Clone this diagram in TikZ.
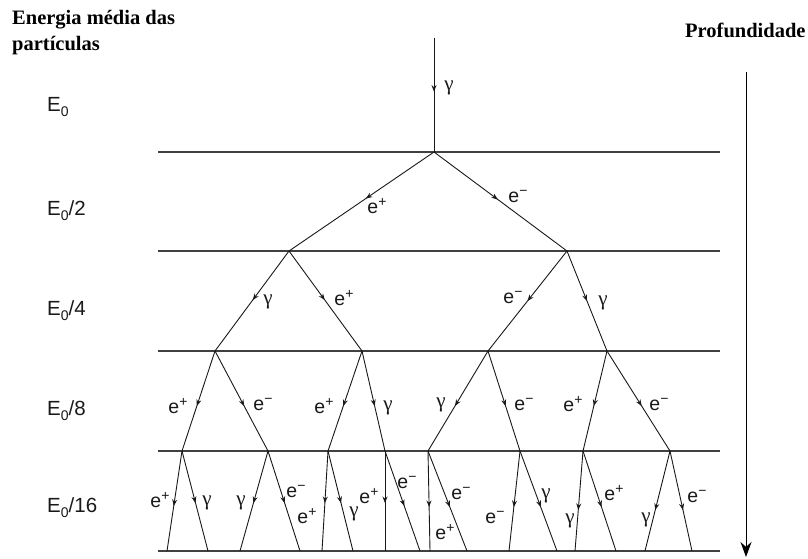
\documentclass[tikz,border=0pt]{standalone}
\usepackage{fontspec}
\setmainfont{Liberation Serif}
\newfontfamily\lsans{Liberation Sans}
\usetikzlibrary{arrows.meta,decorations.markings}
\newcommand\eplus{e\raisebox{6.5pt}{\fontsize{14}{14}\selectfont +}}
\newcommand\eminus{e\raisebox{7pt}{\fontsize{14}{14}\selectfont −}}
\newcommand\gam{{\rmfamily\fontsize{21}{21}\selectfont γ}}
\newcommand\Ezero{E\raisebox{-5pt}{\fontsize{14}{14}\selectfont 0}}
\begin{document}
\begin{tikzpicture}[x=1pt,y=-1pt,
  trk/.style={draw=black!90, line width=0.9pt, postaction=decorate,
    decoration={markings, mark=at position #1 with {\arrow{Stealth[length=6.5pt,width=5pt]}}}},
  trk/.default=0.5,
  layer/.style={draw=black!75, line width=1.2pt},
  lab/.style={inner sep=0pt, font=\lsans\fontsize{19.5}{19.5}\selectfont, text=black!90},
  elab/.style={inner sep=0pt, anchor=base west, font=\lsans\fontsize{20.5}{20.5}\selectfont, text=black!90},
  head/.style={inner sep=0pt, anchor=base west, font=\bfseries\fontsize{20.5}{20.5}\selectfont, text=black}]
\useasboundingbox (0,0) rectangle (808,559);
% headers
\node[head] (h1) at (12,25) {Energia média das};
\node[head] (h2) at (12,51) {partículas};
\node[head] (h3) at (685,38) {Profundidade};
% energy labels
\node[elab] (e0) at (47,112) {\Ezero};
\node[elab] (e1) at (47,215) {\Ezero/2};
\node[elab] (e2) at (47,315) {\Ezero/4};
\node[elab] (e3) at (47,415) {\Ezero/8};
\node[elab] (e4) at (47,512) {\Ezero/16};
% layer lines
\foreach \i/\y in {1/152,2/251,3/351,4/451,5/551}{
  \coordinate (hl\i) at (158,\y);
  \coordinate (hr\i) at (720,\y);
  \draw[layer] (hl\i) -- (hr\i);
}
% depth arrow
\coordinate (dtop) at (746,72);
\coordinate (dbot) at (746,557);
\draw[line width=1pt, -{Stealth[length=15pt,width=11pt]}] (dtop) -- (dbot);
% vertices
\coordinate (t) at (434,38);
\coordinate (a) at (434,152);
\coordinate (b1) at (289,251); \coordinate (b2) at (567,251);
\coordinate (c1) at (215,351); \coordinate (c2) at (362,351);
\coordinate (c3) at (488,351); \coordinate (c4) at (607,351);
\coordinate (d1) at (182,451); \coordinate (d2) at (268,451);
\coordinate (d3) at (328,451); \coordinate (d4) at (385,451);
\coordinate (d5) at (428,451); \coordinate (d6) at (520,451);
\coordinate (d7) at (583,451); \coordinate (d8) at (670,451);
\coordinate (f1) at (167,551); \coordinate (f2) at (208,551);
\coordinate (f3) at (240,551); \coordinate (f4) at (300,551);
\coordinate (f5) at (322,551); \coordinate (f6) at (353,551);
\coordinate (f7) at (385,551); \coordinate (f8) at (420,551);
\coordinate (f9) at (430,551); \coordinate (f10) at (467,551);
\coordinate (f11) at (509,551); \coordinate (f12) at (557,551);
\coordinate (f13) at (575,551); \coordinate (f14) at (616,551);
\coordinate (f15) at (645,551); \coordinate (f16) at (692,551);
% tracks
\draw[trk=0.47] (t) -- (a);
\draw[trk=0.47] (a) -- (b1);
\draw[trk=0.48] (a) -- (b2);
\draw[trk=0.49] (b1) -- (c1);
\draw[trk=0.49] (b1) -- (c2);
\draw[trk=0.5] (b2) -- (c3);
\draw[trk=0.5] (b2) -- (c4);
\draw[trk=0.55] (c1) -- (d1);
\draw[trk=0.55] (c1) -- (d2);
\draw[trk=0.55] (c2) -- (d3);
\draw[trk=0.55] (c2) -- (d4);
\draw[trk=0.55] (c3) -- (d5);
\draw[trk=0.55] (c3) -- (d6);
\draw[trk=0.55] (c4) -- (d7);
\draw[trk=0.55] (c4) -- (d8);
\draw[trk=0.55] (d1) -- (f1);
\draw[trk=0.52] (d1) -- (f2);
\draw[trk=0.52] (d2) -- (f3);
\draw[trk=0.52] (d2) -- (f4);
\draw[trk=0.52] (d3) -- (f5);
\draw[trk=0.52] (d3) -- (f6);
\draw[trk=0.52] (d4) -- (f7);
\draw[trk=0.55] (d4) -- (f8);
\draw[trk=0.56] (d5) -- (f9);
\draw[trk=0.56] (d5) -- (f10);
\draw[trk=0.56] (d6) -- (f11);
\draw[trk=0.56] (d6) -- (f12);
\draw[trk=0.59] (d7) -- (f13);
\draw[trk=0.56] (d7) -- (f14);
\draw[trk=0.59] (d8) -- (f15);
\draw[trk=0.59] (d8) -- (f16);
% particle labels
\node[lab] (l0) at (449,88) {\gam};
\node[lab] (l1a) at (377,206) {\eplus};
\node[lab] (l1b) at (518,197) {\eminus};
\node[lab] (l2a) at (268,302) {\gam};
\node[lab] (l2b) at (344,298) {\eplus};
\node[lab] (l2c) at (513,298) {\eminus};
\node[lab] (l2d) at (603,303) {\gam};
\node[lab] (l3a) at (178,406) {\eplus};
\node[lab] (l3b) at (263,405) {\eminus};
\node[lab] (l3c) at (324,406) {\eplus};
\node[lab] (l3d) at (388,408) {\gam};
\node[lab] (l3e) at (441,405) {\gam};
\node[lab] (l3f) at (524,405) {\eminus};
\node[lab] (l3g) at (573,404) {\eplus};
\node[lab] (l3h) at (659,405) {\eminus};
\node[lab] (l4a) at (160,500) {\eplus};
\node[lab] (l4b) at (207,503) {\gam};
\node[lab] (l4c) at (241,503) {\gam};
\node[lab] (l4d) at (296,492) {\eminus};
\node[lab] (l4e) at (307,516) {\eplus};
\node[lab] (l4f) at (354,514) {\gam};
\node[lab] (l4g) at (369,496) {\eplus};
\node[lab] (l4h) at (407,483) {\eminus};
\node[lab] (l4i) at (461,494) {\eminus};
\node[lab] (l4j) at (445,532) {\eplus};
\node[lab] (l4k) at (495,518) {\eminus};
\node[lab] (l4l) at (546,496) {\gam};
\node[lab] (l4m) at (570,521) {\gam};
\node[lab] (l4n) at (614,493) {\eplus};
\node[lab] (l4o) at (646,520) {\gam};
\node[lab] (l4p) at (697,497) {\eminus};
\end{tikzpicture}
\end{document}
